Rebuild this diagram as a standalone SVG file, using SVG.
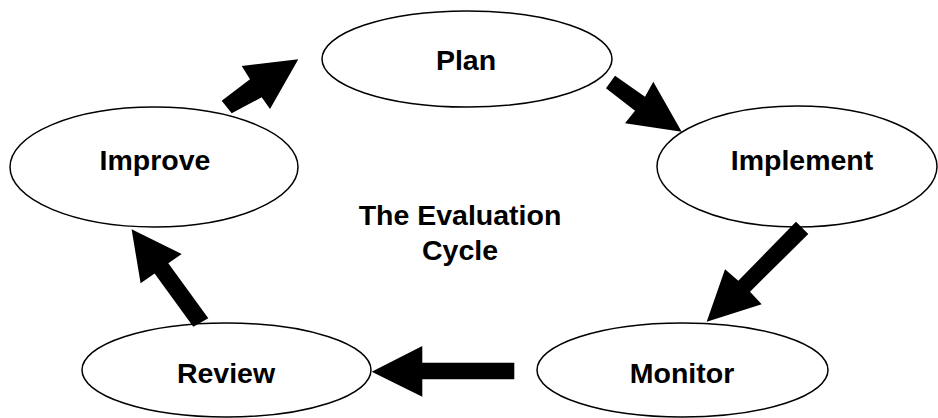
<svg xmlns="http://www.w3.org/2000/svg" width="938" height="418" viewBox="0 0 938 418">
<style>
.node ellipse{fill:#fff;stroke:#000;stroke-width:1.5}
text{font-family:"Liberation Sans",Arial,sans-serif;font-weight:bold;font-size:28.5px;fill:#000;text-anchor:middle}
.arrow{fill:#000;stroke:none}
</style>
<rect width="938" height="418" fill="#fff"/>
<g id="plan" class="node"><ellipse cx="467" cy="59" rx="145" ry="48"/><text x="466" y="70">Plan</text></g>
<g id="implement" class="node"><ellipse cx="797" cy="166.5" rx="140" ry="60.5"/><text x="802" y="170">Implement</text></g>
<g id="improve" class="node"><ellipse cx="154" cy="167" rx="144" ry="60"/><text x="155" y="170">Improve</text></g>
<g id="review" class="node"><ellipse cx="226.5" cy="370" rx="144.5" ry="47"/><text x="226" y="383">Review</text></g>
<g id="monitor" class="node"><ellipse cx="682.5" cy="370" rx="145.5" ry="47"/><text x="682" y="383">Monitor</text></g>
<g id="title"><text x="460" y="225">The Evaluation</text><text x="460" y="260">Cycle</text></g>
<g id="connectors">
<polygon class="arrow" points="221.7,100.7 231.7,113.3 261.7,97.3 270,109 298.3,59.3 241.7,66 250,79.3"/>
<polygon class="arrow" points="606,88.3 615,75.7 645,96.7 653.3,81.7 681.7,131.7 625,123.3 635,110.7"/>
<polygon class="arrow" points="796,221.7 808.3,234 750,291.7 761.7,304.3 706.7,321.7 725,269.3 738.3,280.7"/>
<polygon class="arrow" points="371.7,371.7 422.3,346 422.3,362.7 514.3,362.7 514.3,379.3 422.3,379.3 422.3,396.7"/>
<polygon class="arrow" points="208.3,318.3 193.3,326.7 154.6,273.4 140.6,283.3 131.6,229.3 181.7,254 168.3,263.3"/>
</g>
</svg>
